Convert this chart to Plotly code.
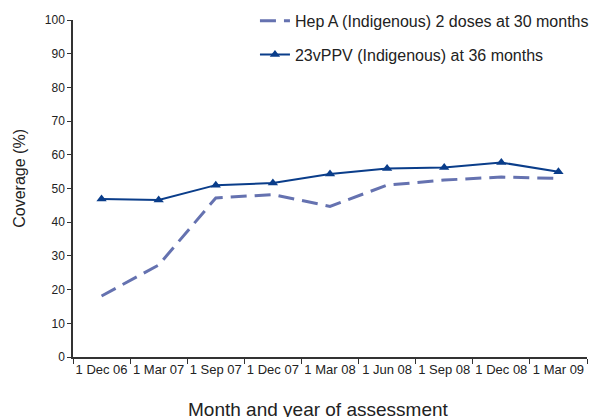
import plotly.graph_objects as go

categories = ["1 Dec 06", "1 Mar 07", "1 Sep 07", "1 Dec 07", "1 Mar 08",
              "1 Jun 08", "1 Sep 08", "1 Dec 08", "1 Mar 09"]
hep_a = [18.1, 27.3, 47.2, 48.2, 44.7, 51.0, 52.5, 53.4, 53.0]
ppv23 = [46.9, 46.6, 51.0, 51.6, 54.3, 55.9, 56.2, 57.7, 55.0]
y_ticks = list(range(0, 101, 10))

FONT = "Liberation Sans, Arial, sans-serif"
W, H = 595, 417

fig = go.Figure()
fig.add_trace(go.Scatter(
    x=categories, y=hep_a, mode="lines",
    name="Hep A (Indigenous) 2 doses at 30 months",
    line=dict(color="#6572B0", width=3, dash="16px,8px"),
    legendgroup="a",
))
fig.add_trace(go.Scatter(
    x=categories, y=ppv23, mode="lines+markers",
    name="23vPPV (Indigenous) at 36 months",
    line=dict(color="#0A3D8A", width=2),
    marker=dict(symbol="triangle-up", size=9, color="#0A3D8A"),
    legendgroup="b",
))

fig.update_layout(
    width=W, height=H,
    margin=dict(l=73, r=1, t=20, b=60),
    paper_bgcolor="white", plot_bgcolor="white",
    font=dict(family=FONT, color="#222222", size=12),
    showlegend=True,
    legend=dict(
        x=0.354, xanchor="left",
        y=1.048, yanchor="top",
        font=dict(size=16, family=FONT, color="#222222"),
        bgcolor="rgba(0,0,0,0)",
        traceorder="grouped", tracegroupgap=10,
        itemwidth=30,
    ),
    xaxis=dict(
        type="category", tickson="boundaries",
        showline=True, linecolor="#333333", linewidth=1.5,
        ticks="outside", ticklen=5, tickcolor="#333333",
        showgrid=False, zeroline=False, automargin=False,
        tickangle=0,
        tickfont=dict(size=13, family=FONT, color="#222222"),
        range=[-0.5, 8.5],
    ),
    yaxis=dict(
        range=[0, 100], tickvals=y_ticks,
        showline=True, linecolor="#333333", linewidth=1.5,
        ticks="outside", ticklen=4, tickcolor="#333333",
        showgrid=False, zeroline=False, automargin=False,
        tickfont=dict(size=12, family=FONT, color="#222222"),
    ),
    annotations=[
        dict(text="Month and year of assessment", xref="paper", yref="paper",
             x=(322 - 73) / 521, y=-(409 - 357) / 337,
             xanchor="center", yanchor="middle", showarrow=False,
             font=dict(size=19, family=FONT, color="#222222")),
        dict(text="Coverage (%)", xref="paper", yref="paper",
             x=-(73 - 18) / 521, y=(357 - 178) / 337,
             xanchor="center", yanchor="middle", showarrow=False, textangle=-90,
             font=dict(size=16, family=FONT, color="#222222")),
    ],
)

fig.write_html(
    "out.html",
    config={"displayModeBar": False},
    post_script="document.body.style.margin='0';document.body.style.overflow='hidden';",
)
